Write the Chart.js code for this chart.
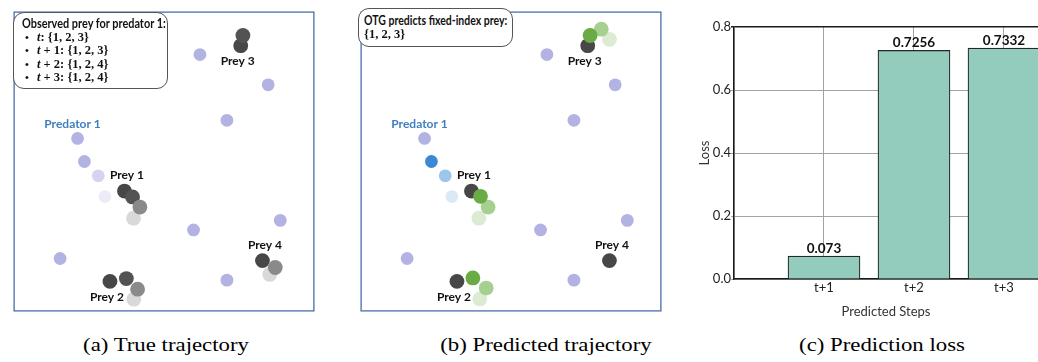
<!DOCTYPE html>
<html>
<head>
<meta charset="utf-8">
<script src="https://cdn.jsdelivr.net/npm/chart.js@4.4.1/dist/chart.umd.min.js"></script>
<style>
  html, body { margin: 0; padding: 0; background: #fff; }
  body { width: 1038px; height: 362px; position: relative; overflow: hidden; font-family: Lato, sans-serif; }
  canvas { position: absolute; }
  .note { position: absolute; box-sizing: border-box; border: 1px solid #555; border-radius: 11px; background: #fff; color: #111; }
  .note .head { font: 700 12.5px Lato, sans-serif; white-space: nowrap; line-height: 13.6px; transform-origin: left center; }
  .note .row { font: 700 12.5px 'Liberation Serif', serif; white-space: nowrap; line-height: 13.6px; position: relative; }
  .note .row .dot { position: absolute; left: -12px; font-family: 'Liberation Sans', sans-serif; font-weight: 400; font-size: 11px; }
  .note i { font-style: italic; }
  .caption { position: absolute; top: 334px; font: 19px 'Liberation Serif', serif; color: #000; white-space: nowrap; transform: translateX(-50%) scaleX(1.2); }
</style>
</head>
<body>
<canvas id="trueChart" width="316" height="315" style="left:6px;top:4px"></canvas>
<canvas id="predChart" width="316" height="315" style="left:353px;top:4px"></canvas>
<canvas id="lossChart" width="358" height="330" style="left:680px;top:0px"></canvas>

<div class="note" style="left:13px;top:12px;width:155px;height:77px;padding:4px 0 0 8px">
  <div class="head" id="obsHead">Observed prey for predator 1:</div>
  <div id="obsRows" style="padding-left:15px"></div>
</div>
<div class="note" style="left:358px;top:8px;width:155px;height:39px;padding:5px 0 0 5px">
  <div class="head" id="predHead">OTG predicts fixed-index prey:</div>
  <div class="row" id="predSet"></div>
</div>

<div class="caption" style="left:166px">(a) True trajectory</div>
<div class="caption" style="left:546px">(b) Predicted trajectory</div>
<div class="caption" style="left:882px">(c) Prediction loss</div>

<script>
// ---- field coordinates (units of the square arena, y measured downward) ----
const preyNames = ['Prey 1', 'Prey 2', 'Prey 3', 'Prey 4'];
const preyLabelSide = [-1, 1, 1, -1];          // -1: name above, 1: name below
const preyAtT = [[116.5, 188.5], [101.3, 283.3], [238.5, 36], [261.3, 261.5]];

// true prey positions (prey 1,2,3 at t+1; prey 1,2,4 at t+2 and t+3)
const trueT1 = [[125, 194.7], [118.5, 280.3], [240.8, 25.3]];
const trueT2 = [[132.7, 205.3], [130.3, 291.5], [274.7, 268.7]];
const trueT3 = [[126, 217], [126.3, 302], [269, 276]];

// predicted positions for prey 1,2,3
const predT1 = [[126, 194], [118, 279.7], [241, 25.3]];
const predT2 = [[134, 205.3], [132, 290.3], [252.7, 18.7]];
const predT3 = [[124.3, 217], [125.3, 301.7], [261.3, 29.3]];

// predator 1 at t, t+1, t+2, t+3
const predatorPath = [[67.3, 133.3], [74.5, 157.5], [89, 172.5], [96, 194.3]];
// other agents on the field
const otherAgents = [[195.7, 45.3], [267.3, 77], [224, 114.3], [189, 229.3], [280, 219.3], [49, 259.3], [224, 282]];

// observed / predicted prey index sets
const stepNames = ['t', 't + 1', 't + 2', 't + 3'];
const observedSets = [[1, 2, 3], [1, 2, 3], [1, 2, 4], [1, 2, 4]];
const predictedSet = [1, 2, 3];

// ---- loss per predicted step ----
const stepLabels = ['t+1', 't+2', 't+3'];
const lossValues = [0.073, 0.7256, 0.7332];
const lossTicks = [0, 0.2, 0.4, 0.6, 0.8];

// ---- note boxes ----
const fmtSet = s => '{' + s.join(', ') + '}';
document.getElementById('obsRows').innerHTML = stepNames.map((n, i) =>
  '<div class="row"><span class="dot">•</span>' +
  n.replace('t', '<i>t</i>') + ': ' + fmtSet(observedSets[i]) + '</div>').join('');
document.getElementById('predSet').textContent = fmtSet(predictedSet);

// squeeze a heading to a given width
function fitWidth(id, w) {
  const el = document.getElementById(id);
  const natural = el.scrollWidth;
  if (natural > 0) el.style.transform = 'scaleX(' + (w / natural) + ')';
}
fitWidth('obsHead', 144);
fitWidth('predHead', 143);

// ---- trajectory panels ----
const pts = arr => arr.map(([x, y]) => ({ x, y }));
const R_PREY = 7.4, R_AGENT = 6.4;

function layer(points, color, r) {
  return { data: pts(points), backgroundColor: color, pointRadius: r, pointHoverRadius: r,
           pointBorderWidth: 0, borderWidth: 0, showLine: false, clip: false };
}

const frameAndLabels = {
  id: 'frameAndLabels',
  afterDatasetsDraw(chart) {
    const { ctx, scales: { x, y }, chartArea: a } = chart;
    ctx.save();
    ctx.textAlign = 'center';
    ctx.textBaseline = 'middle';
    ctx.font = '700 12px Lato, sans-serif';
    ctx.fillStyle = '#111';
    preyAtT.forEach(([px, py], i) => {
      ctx.fillText(preyNames[i], x.getPixelForValue(px) + (preyLabelSide[i] < 0 ? 2.5 : -3),
                   y.getPixelForValue(py) + preyLabelSide[i] * 15.5);
    });
    ctx.fillStyle = '#3f7fc0';
    const [hx, hy] = predatorPath[0];
    ctx.fillText('Predator 1', x.getPixelForValue(hx) - 5, y.getPixelForValue(hy) - 14.6);
    ctx.strokeStyle = '#4a6ea8';
    ctx.lineWidth = 1.3;
    ctx.strokeRect(a.left + 0.7, a.top + 0.7, a.width - 1.4, a.height - 1.4);
    ctx.restore();
  }
};

function trajectoryChart(id, datasets) {
  return new Chart(document.getElementById(id), {
    type: 'scatter',
    data: { datasets },
    options: {
      responsive: false, animation: false, events: [],
      layout: { padding: 0 },
      plugins: { legend: { display: false }, tooltip: { enabled: false } },
      scales: {
        x: { type: 'linear', min: 0, max: 316, display: false },
        y: { type: 'linear', min: 0, max: 315, reverse: true, display: false }
      }
    },
    plugins: [frameAndLabels]
  });
}

// datasets listed first are painted on top
trajectoryChart('trueChart', [
  layer(trueT2, '#8a8a8a', R_PREY),
  layer(trueT1, '#535353', R_PREY),
  layer(trueT3, '#d9d9d9', R_PREY),
  layer(preyAtT, '#474747', R_PREY),
  layer(predatorPath.slice(0, 2), '#b3b3e3', R_AGENT),
  layer([predatorPath[2]], '#d4d4f0', R_AGENT),
  layer([predatorPath[3]], '#ececf8', R_AGENT),
  layer(otherAgents, '#b3b3e3', R_AGENT)
]);

trajectoryChart('predChart', [
  layer(predT1, '#6aab46', R_PREY),
  layer(predT2, '#a6d08f', R_PREY),
  layer(predT3, '#ddebd3', R_PREY),
  layer(preyAtT, '#474747', R_PREY),
  layer([predatorPath[0]], '#b3b3e3', R_AGENT),
  layer([predatorPath[1]], '#3d88d2', R_AGENT),
  layer([predatorPath[2]], '#9ec5ea', R_AGENT),
  layer([predatorPath[3]], '#dbe8f6', R_AGENT),
  layer(otherAgents, '#b3b3e3', R_AGENT)
]);

// ---- loss bar chart ----
const valueLabels = {
  id: 'valueLabels',
  afterDatasetsDraw(chart) {
    const { ctx } = chart;
    const meta = chart.getDatasetMeta(0);
    ctx.save();
    ctx.font = '700 13.5px Lato, sans-serif';
    ctx.fillStyle = '#111';
    ctx.textAlign = 'center';
    ctx.textBaseline = 'bottom';
    meta.data.forEach((bar, i) => {
      ctx.fillText(String(lossValues[i]), bar.x, bar.y - 1);
    });
    ctx.restore();
  }
};

new Chart(document.getElementById('lossChart'), {
  type: 'bar',
  data: {
    datasets: [{
      data: lossValues.map((v, i) => ({ x: i + 1, y: v })),
      backgroundColor: '#93cbbd',
      borderColor: '#262626',
      borderWidth: 1.2,
      borderSkipped: 'start',
      barThickness: 72
    }]
  },
  options: {
    responsive: false, animation: false, events: [],
    layout: { padding: { top: 27, left: 0, right: 0, bottom: 0 } },
    plugins: { legend: { display: false }, tooltip: { enabled: false } },
    scales: {
      x: {
        type: 'linear', min: 0, max: 3.378, offset: false,
        afterBuildTicks: s => { s.ticks = [0, 1, 2, 3].map(v => ({ value: v })); },
        afterFit: s => { s.height = 51; },
        ticks: { callback: v => stepLabels[v - 1] || '', color: '#222', font: { family: 'Lato', size: 13 },
                 padding: 1, maxRotation: 0, autoSkip: false },
        grid: { color: '#a3a3a3', lineWidth: 1, drawTicks: false, offset: false },
        border: { color: '#1a1a1a', width: 1.4 },
        title: { display: true, text: 'Predicted Steps', color: '#333', font: { family: 'Lato', size: 13 },
                 padding: { top: 0, bottom: 10 } }
      },
      y: {
        min: 0, max: 0.8,
        afterBuildTicks: s => { s.ticks = lossTicks.map(v => ({ value: v })); },
        afterFit: s => { s.width = 54; },
        ticks: { callback: v => v.toFixed(1), color: '#222', font: { family: 'Lato', size: 13 }, padding: 0 },
        grid: { color: c => (c.tick && c.tick.value >= 0.8 ? '#1a1a1a' : '#a3a3a3'),
                lineWidth: c => (c.tick && c.tick.value >= 0.8 ? 1.4 : 1), tickLength: 3 },
        border: { color: '#1a1a1a', width: 1.4 },
        title: { display: true, text: 'Loss', color: '#333', font: { family: 'Lato', size: 13 },
                 padding: { top: 17, bottom: 0 } }
      }
    }
  },
  plugins: [valueLabels]
});
</script>
</body>
</html>
